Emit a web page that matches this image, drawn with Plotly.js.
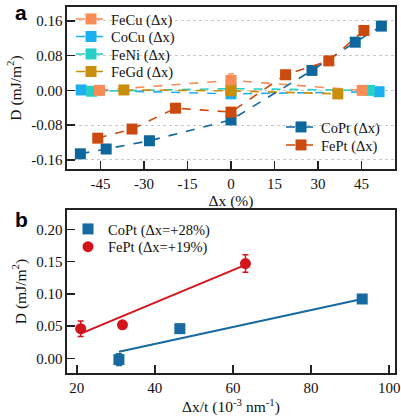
<!DOCTYPE html>
<html>
<head>
<meta charset="utf-8">
<script src="https://cdn.plot.ly/plotly-3.0.1.min.js"></script>
<style>html,body{margin:0;padding:0;background:#fff;}#chart{width:401px;height:418px;}</style>
</head>
<body>
<div id="chart"></div>
<script>
// ---------- Panel a data ----------
const xA_CoPt = [-51.9, -43.0, -28.1, 0, 27.9, 42.8, 51.8];
const yA_CoPt = [-0.146, -0.135, -0.116, -0.068, 0.046, 0.111, 0.148];
const xA_FePt = [-45.9, -34.1, -19.1, 0, 18.8, 33.7, 45.8];
const yA_FePt = [-0.110, -0.089, -0.041, -0.050, 0.036, 0.068, 0.138];
const xA_FeCu = [-45.3, 0, 45.2];
const yA_FeCu = [0.000, 0.023, 0.000];
const eA_FeCu = [0.003, 0.015, 0.003];
const xA_CoCu = [-51.6, 0, 51.0];
const yA_CoCu = [0.001, -0.008, -0.003];
const eA_CoCu = [0.010, 0.009, 0.004];
const xA_FeNi = [-48.0, 0, 47.7];
const yA_FeNi = [-0.002, 0.004, 0.000];
const xA_FeGd = [-36.9, 0, 36.8];
const yA_FeGd = [0.001, -0.001, -0.008];
const xTickValsA = [-45, -30, -15, 0, 15, 30, 45];
const xTickTextA = ["-45", "-30", "-15", "0", "15", "30", "45"];
const yTickValsA = [-0.16, -0.08, 0, 0.08, 0.16];
const yTickTextA = ["-0.16", "-0.08", "0.00", "0.08", "0.16"];

// ---------- Panel b data ----------
const xB_CoPt = [30.8, 46.4, 93.1];
const yB_CoPt = [-0.002, 0.046, 0.092];
const eB_CoPt = [0.009, 0.006, 0.005];
const xB_FePt = [21.0, 31.7, 63.2];
const yB_FePt = [0.046, 0.052, 0.147];
const eB_FePt = [0.012, 0.004, 0.0135];
const xFit_CoPt = [30.8, 93.1];
const yFit_CoPt = [0.010, 0.092];
const xFit_FePt = [21.3, 63.2];
const yFit_FePt = [0.039, 0.145];
const xTickValsB = [20, 40, 60, 80, 100];
const yTickValsB = [0, 0.05, 0.10, 0.15, 0.20];

const W = 401, H = 418;
const serif = "Liberation Serif, Times New Roman, serif";
const C = {
  CoPt: "#0d669c", FePt: "#cc4a10", FeCu: "#f98b56", CoCu: "#1ab0f2",
  FeNi: "#26d0c8", FeGd: "#c98f0c", bCoPt: "#17699f", bFePt: "#d3141c"
};

function sq(color){ return {symbol:"square", size:11, color:color, line:{width:0}}; }
function dashTrace(x, y, name, color, leg, err){
  const t = {x:x, y:y, name:name, type:"scatter", mode:"lines+markers",
    line:{color:color, width:1.6, dash:"dash"}, marker:sq(color),
    xaxis:"x", yaxis:"y", legend:leg};
  if (err) t.error_y = {type:"data", array:err, visible:true, color:color, thickness:1.3, width:3};
  return t;
}

const traces = [
  dashTrace(xA_CoCu, yA_CoCu, "CoCu (Δx)", C.CoCu, "legend2", eA_CoCu),
  dashTrace(xA_FeNi, yA_FeNi, "FeNi (Δx)", C.FeNi, "legend3"),
  dashTrace(xA_FeCu, yA_FeCu, "FeCu (Δx)", C.FeCu, "legend", eA_FeCu),
  dashTrace(xA_FeGd, yA_FeGd, "FeGd (Δx)", C.FeGd, "legend4"),
  dashTrace(xA_CoPt, yA_CoPt, "CoPt (Δx)", C.CoPt, "legend5"),
  dashTrace(xA_FePt, yA_FePt, "FePt (Δx)", C.FePt, "legend6"),
  {x:xFit_CoPt, y:yFit_CoPt, type:"scatter", mode:"lines", line:{color:C.bCoPt, width:2},
   showlegend:false, xaxis:"x2", yaxis:"y2", hoverinfo:"skip"},
  {x:xFit_FePt, y:yFit_FePt, type:"scatter", mode:"lines", line:{color:C.bFePt, width:2},
   showlegend:false, xaxis:"x2", yaxis:"y2", hoverinfo:"skip"},
  {x:xB_CoPt, y:yB_CoPt, name:"CoPt (Δx=+28%)", type:"scatter", mode:"markers",
   marker:{symbol:"square", size:11, color:C.bCoPt},
   error_y:{type:"data", array:eB_CoPt, visible:true, color:C.bCoPt, thickness:1.5, width:3},
   xaxis:"x2", yaxis:"y2", legend:"legend7"},
  {x:xB_FePt, y:yB_FePt, name:"FePt (Δx=+19%)", type:"scatter", mode:"markers",
   marker:{symbol:"circle", size:11, color:C.bFePt},
   error_y:{type:"data", array:eB_FePt, visible:true, color:C.bFePt, thickness:1.5, width:3},
   xaxis:"x2", yaxis:"y2", legend:"legend8"}
];

function leg(xText, yCenter){
  return {x:(xText-40)/W, y:1-yCenter/H, xanchor:"left", yanchor:"middle",
    bgcolor:"rgba(0,0,0,0)", borderwidth:0,
    font:{family:serif, size:14.5, color:"#111"}};
}

const axCommon = {
  showline:true, mirror:true, linecolor:"#222", linewidth:1.6,
  ticks:"inside", ticklen:8, tickwidth:1.5, tickcolor:"#222",
  tickfont:{family:serif, size:15, color:"#111"},
  zeroline:false, automargin:false
};

const layout = {
  width:W, height:H,
  margin:{l:0, r:0, t:0, b:0},
  paper_bgcolor:"#fff", plot_bgcolor:"#fff",
  showlegend:true,
  xaxis: Object.assign({}, axCommon, {
    domain:[67/W, 395/W], anchor:"y", range:[-56.5, 56.5],
    tickmode:"array", tickvals:xTickValsA, ticktext:xTickTextA, showgrid:false,
    title:{text:"Δx (%)", font:{family:serif, size:15.5, color:"#111"}, standoff:2}
  }),
  yaxis: Object.assign({}, axCommon, {
    domain:[1-169/H, 1-7/H], anchor:"x", range:[-0.181, 0.192],
    tickmode:"array", tickvals:yTickValsA, ticktext:yTickTextA,
    showgrid:true, gridcolor:"#c9c9c9", gridwidth:1, griddash:"dot",
    title:{text:"D (mJ/m<sup>2</sup>)", font:{family:serif, size:15.5, color:"#111"}, standoff:6}
  }),
  xaxis2: Object.assign({}, axCommon, {
    domain:[67/W, 395/W], anchor:"y2", range:[17.5, 101.5],
    tickmode:"array", tickvals:xTickValsB, showgrid:false,
    title:{text:"Δx/t (10<sup>-3</sup> nm<sup>-1</sup>)", font:{family:serif, size:15.5, color:"#111"}, standoff:0}
  }),
  yaxis2: Object.assign({}, axCommon, {
    domain:[1-373/H, 1-210/H], anchor:"x2", range:[-0.0228, 0.230],
    tickmode:"array", tickvals:yTickValsB, tickformat:".2f", showgrid:false,
    title:{text:"D (mJ/m<sup>2</sup>)", font:{family:serif, size:15.5, color:"#111"}, standoff:6}
  }),
  legend: leg(111, 19),
  legend2: leg(111, 36.5),
  legend3: leg(111, 54),
  legend4: leg(111, 71.5),
  legend5: leg(321, 127),
  legend6: leg(321, 145),
  legend7: leg(108, 229),
  legend8: leg(108, 246.7),
  annotations:[
    {text:"<b>a</b>", xref:"paper", yref:"paper", x:21/W, y:1-13/H, showarrow:false,
     xanchor:"center", yanchor:"middle", font:{family:"Liberation Sans, Arial, sans-serif", size:21, color:"#000"}},
    {text:"<b>b</b>", xref:"paper", yref:"paper", x:21/W, y:1-219/H, showarrow:false,
     xanchor:"center", yanchor:"middle", font:{family:"Liberation Sans, Arial, sans-serif", size:21, color:"#000"}}
  ]
};

Plotly.newPlot("chart", traces, layout, {staticPlot:true, displayModeBar:false});
</script>
</body>
</html>
